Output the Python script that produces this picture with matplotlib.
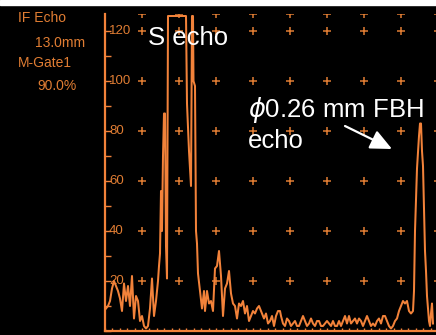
import numpy as np
import matplotlib
matplotlib.use("Agg")
import matplotlib.pyplot as plt
from matplotlib.patches import Rectangle
from matplotlib.ticker import MultipleLocator

# ---- data (sample index along time base, amplitude in % screen height) ----
sample = [1, 3, 5, 7, 9, 11, 13, 15, 17, 19, 21, 23, 25, 27, 29, 31, 33, 35, 37, 39,
          41, 43, 45, 47, 49, 51, 53, 54, 55, 56, 57, 58, 59, 60, 61, 62, 63, 81, 82, 84,
          86, 87, 88, 88.5, 90, 91, 92, 93, 95, 97, 99, 100, 102, 104, 106, 108, 110, 112, 114, 116,
          118, 120, 122, 124, 126, 128, 130, 132, 134, 136, 138, 140, 142, 144, 146, 148, 150, 152, 154, 156,
          158, 159, 161, 163, 165, 167, 169, 171, 173, 175, 176, 178, 180, 182, 184, 186, 188, 190, 192, 194,
          196, 198, 200, 202, 204, 206, 208, 210, 212, 214, 216, 218, 220, 222, 224, 226, 228, 230, 232, 234,
          236, 238, 240, 242, 244, 246, 248, 250, 252, 254, 256, 258, 260, 262, 264, 266, 268, 270, 272, 274,
          276, 278, 280, 282, 284, 286, 288, 290, 292, 294, 296, 298, 300, 302, 304, 306, 308, 309, 310, 312,
          314, 315, 316, 317, 318, 319, 320, 321, 322, 324, 325, 326, 327, 328]
amplitude = [9, 10, 12, 17, 20, 18, 16, 13, 8, 19, 12, 18, 10, 22, 5, 14, 12, 4, 6, 2,
             1, 2, 9, 21, 6, 12, 20, 26, 31, 56, 40, 70, 87, 87, 34, 21, 126, 126, 91, 72,
             58, 126, 126, 100, 98, 40, 35, 23, 16, 9, 16, 8, 16, 11, 12, 8, 25, 26, 32, 22,
             6, 17, 19, 24, 15, 11, 10, 5, 11, 10, 12, 7, 10, 4, 6, 8, 7, 9, 10, 8,
             6, 5, 7, 3, 4, 6, 2, 6, 8, 8, 6, 3, 2, 5, 4, 2, 3, 4, 2, 2,
             4, 6, 4, 2, 3, 5, 3, 2, 4, 4, 2, 2, 3, 4, 3, 2, 4, 2, 2, 4,
             2, 4, 6, 3, 6, 3, 4, 5, 3, 5, 4, 2, 4, 6, 4, 2, 3, 2, 4, 5,
             3, 6, 6, 4, 2, 1, 2, 4, 5, 8, 10, 12, 11, 12, 8, 7, 8, 16, 40, 65,
             78, 83, 83, 72, 66, 48, 32, 24, 14, 4, 2, 7, 11, 3]

y_labels = [20, 40, 60, 80, 100, 120]
info_lines = ["IF Echo", "13.0mm", "M-Gate1", "90.0%"]

W, H = 436, 335
ORANGE = "#F2823A"
ORANGE_T = "#E07D33"
SANS = ["Liberation Sans", "DejaVu Sans"]

fig = plt.figure(figsize=(W / 100, H / 100), dpi=100, facecolor="black")
ax = fig.add_axes([105 / W, 4 / H, 333 / W, 317 / H])
ax.set_facecolor("black")
ax.set_xlim(0, 333)
ax.set_ylim(0, 126.8)

for s in ["top", "right"]:
    ax.spines[s].set_visible(False)
for s in ["left", "bottom"]:
    ax.spines[s].set_color(ORANGE)
    ax.spines[s].set_linewidth(1.6)

ax.yaxis.set_major_locator(MultipleLocator(20))
ax.yaxis.set_minor_locator(MultipleLocator(10))
ax.xaxis.set_major_locator(MultipleLocator(333 / 45))
ax.tick_params(axis="y", which="both", direction="in", length=4, width=1, color=ORANGE,
               labelleft=False)
ax.tick_params(axis="x", which="both", direction="in", length=2.5, width=1, color=ORANGE,
               labelbottom=False)

# grid crosses
div = 333 / 9
gx, gy = np.meshgrid(np.arange(1, 10) * div, y_labels + [126.8])
ax.scatter(gx.ravel(), gy.ravel(), marker="+", s=30, color=ORANGE_T, linewidths=1.1, zorder=2)

# amplitude labels inside axis
for v in y_labels:
    ax.text(4, v, str(v), color=ORANGE_T, fontsize=9.5, family=SANS, va="center", ha="left",
            zorder=3)

# trace
ax.plot(sample, amplitude, color=ORANGE, lw=1.45, zorder=4, clip_on=False)

# left info panel
info_pos = [(18, 22), (35, 47), (18, 67), (37, 90)]
for t, (x, y) in zip(info_lines, info_pos):
    fig.text(x / W, 1 - y / H, t, color=ORANGE_T, fontsize=10, family=SANS, va="baseline")

# annotations
fig.text(148 / W, 1 - 45 / H, "S echo", color="white", fontsize=18.5, family=SANS, va="baseline")
fig.text(248 / W, 1 - 117 / H, r"$\phi$0.26 mm FBH", color="white", fontsize=18.5, family=SANS,
         va="baseline")
fig.text(248 / W, 1 - 148 / H, "echo", color="white", fontsize=18.5, family=SANS, va="baseline")
ax.annotate("", xy=(392 / W, 1 - 149 / H), xycoords="figure fraction",
            xytext=(345 / W, 1 - 126 / H), textcoords="figure fraction",
            arrowprops=dict(arrowstyle="-|>,head_length=0.65,head_width=0.3", color="white",
                            lw=1.6, mutation_scale=20, shrinkA=0, shrinkB=0))

# white band at top
fig.patches.append(Rectangle((0, 1 - 5 / H), 1, 5 / H, transform=fig.transFigure,
                             color="white", zorder=10))

fig.savefig("out.png", dpi=100, facecolor="black")
